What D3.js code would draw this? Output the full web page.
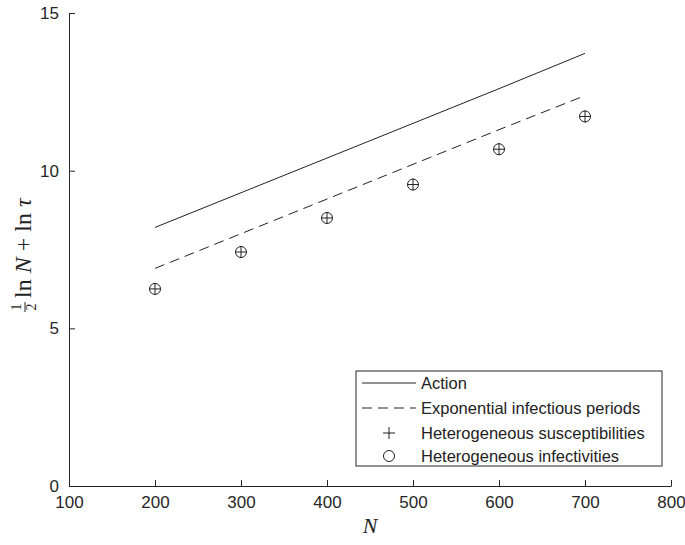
<!DOCTYPE html>
<html>
<head>
<meta charset="utf-8">
<script src="https://cdn.jsdelivr.net/npm/d3@7"></script>
<style>
  body { margin: 0; background: #fff; }
  svg { display: block; }
</style>
</head>
<body>
<svg id="chart" width="685" height="545"></svg>
<script>
// data
var nValues = [200, 300, 400, 500, 600, 700];
var actionValues = [8.2, 9.3, 10.4, 11.5, 12.6, 13.72];
var exponentialValues = [6.9, 8.0, 9.1, 10.2, 11.3, 12.38];
var suscValues = [6.25, 7.42, 8.5, 9.56, 10.68, 11.72];
var infectValues = [6.25, 7.42, 8.5, 9.56, 10.68, 11.72];
var xTicks = [100, 200, 300, 400, 500, 600, 700, 800];
var yTicks = [0, 5, 10, 15];
var legendLabels = ["Action", "Exponential infectious periods", "Heterogeneous susceptibilities", "Heterogeneous infectivities"];

var svg = d3.select("#chart");
var plotLeft = 69, plotRight = 671, plotTop = 13, plotBottom = 486;

var x = d3.scaleLinear().domain([100, 800]).range([plotLeft, plotRight]);
var y = d3.scaleLinear().domain([0, 15]).range([plotBottom, plotTop]);

var axisColor = "#262626";
var font = "Liberation Sans, Arial, sans-serif";
var serif = "Liberation Serif, 'Times New Roman', serif";

// x axis
var xAxis = svg.append("g")
    .attr("transform", "translate(0," + plotBottom + ")")
    .call(d3.axisBottom(x).tickValues(xTicks).tickSizeInner(-6).tickSizeOuter(0).tickPadding(10));
// y axis
var yAxis = svg.append("g")
    .attr("transform", "translate(" + plotLeft + ",0)")
    .call(d3.axisLeft(y).tickValues(yTicks).tickSizeInner(-6).tickSizeOuter(0).tickPadding(10));

[xAxis, yAxis].forEach(function (g) {
    g.select(".domain").attr("stroke", axisColor).attr("stroke-width", 1);
    g.selectAll(".tick line").attr("stroke", axisColor);
    g.selectAll(".tick text").attr("fill", "#262626")
        .style("font-family", font).style("font-size", "17px");
});

// lines
var line = d3.line()
    .x(function (d, i) { return x(nValues[i]); })
    .y(function (d) { return y(d); });

svg.append("path")
    .datum(actionValues)
    .attr("d", line)
    .attr("fill", "none")
    .attr("stroke", "#222")
    .attr("stroke-width", 1);

svg.append("path")
    .datum(exponentialValues)
    .attr("d", line)
    .attr("fill", "none")
    .attr("stroke", "#222")
    .attr("stroke-width", 1)
    .attr("stroke-dasharray", "10,6");

// markers
var plusSize = 6, circR = 5.5;
svg.selectAll(".susc")
    .data(suscValues)
    .enter().append("path")
    .attr("class", "susc")
    .attr("d", function (d, i) {
        var cx = x(nValues[i]), cy = y(d);
        return "M" + (cx - plusSize) + "," + cy + "H" + (cx + plusSize) +
            "M" + cx + "," + (cy - plusSize) + "V" + (cy + plusSize);
    })
    .attr("stroke", "#222")
    .attr("stroke-width", 1)
    .attr("fill", "none");

svg.selectAll(".infect")
    .data(infectValues)
    .enter().append("circle")
    .attr("class", "infect")
    .attr("cx", function (d, i) { return x(nValues[i]); })
    .attr("cy", function (d) { return y(d); })
    .attr("r", circR)
    .attr("stroke", "#222")
    .attr("stroke-width", 1)
    .attr("fill", "none");

// legend
var lg = svg.append("g").attr("transform", "translate(356,371)");
lg.append("rect")
    .attr("width", 306)
    .attr("height", 95)
    .attr("fill", "#fff")
    .attr("stroke", axisColor)
    .attr("stroke-width", 1);

var rowY = [12, 37, 62, 85];
var item = lg.selectAll(".item")
    .data(legendLabels)
    .enter().append("g")
    .attr("class", "item")
    .attr("transform", function (d, i) { return "translate(0," + rowY[i] + ")"; });

item.append("text")
    .attr("x", 65)
    .attr("dy", "0.35em")
    .style("font-family", font)
    .style("font-size", "16.5px")
    .attr("fill", "#222")
    .text(function (d) { return d; });

item.filter(function (d, i) { return i === 0; }).append("line")
    .attr("x1", 6).attr("x2", 60).attr("stroke", "#222");
item.filter(function (d, i) { return i === 1; }).append("line")
    .attr("x1", 6).attr("x2", 60).attr("stroke", "#222").attr("stroke-dasharray", "10,6");
item.filter(function (d, i) { return i === 2; }).append("path")
    .attr("d", "M27,0H39M33,-6V6").attr("stroke", "#222").attr("fill", "none");
item.filter(function (d, i) { return i === 3; }).append("circle")
    .attr("cx", 33).attr("r", circR).attr("stroke", "#222").attr("fill", "none");

// axis labels
svg.append("text")
    .attr("x", 370)
    .attr("y", 533)
    .attr("text-anchor", "middle")
    .style("font-family", serif)
    .style("font-style", "italic")
    .style("font-size", "22px")
    .attr("fill", "#222")
    .text("N");

var yl = svg.append("g").attr("transform", "translate(31,245) rotate(-90)");
// fraction 1/2
yl.append("text").attr("x", -62).attr("y", -10).attr("text-anchor", "middle")
    .style("font-family", serif).style("font-size", "14px").attr("fill", "#222").text("1");
yl.append("line").attr("x1", -67).attr("x2", -57).attr("y1", -6).attr("y2", -6)
    .attr("stroke", "#222").attr("stroke-width", 1);
yl.append("text").attr("x", -62).attr("y", 5).attr("text-anchor", "middle")
    .style("font-family", serif).style("font-size", "14px").attr("fill", "#222").text("2");
var lt = yl.append("text").attr("x", -53).attr("y", 0)
    .style("font-family", serif).style("font-size", "24px").attr("fill", "#222");
lt.append("tspan").text("ln ");
lt.append("tspan").style("font-style", "italic").text("N");
lt.append("tspan").text(" + ln ");
lt.append("tspan").style("font-style", "italic").text("τ");
</script>
</body>
</html>
